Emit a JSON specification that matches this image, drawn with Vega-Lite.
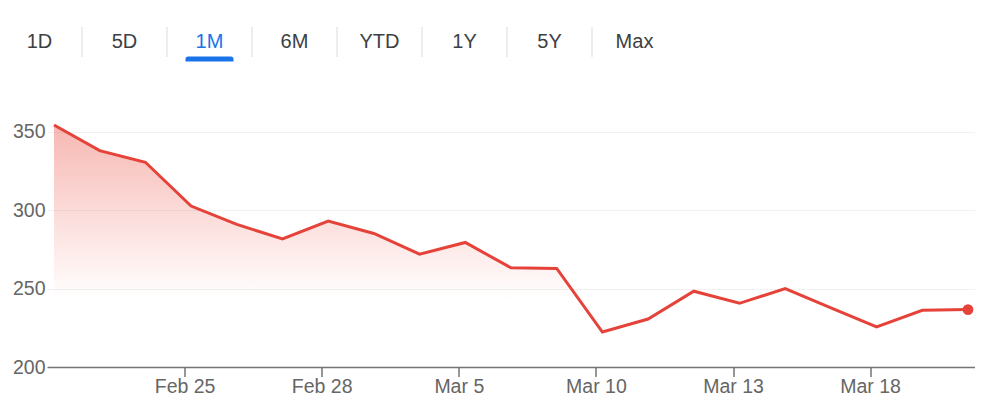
{
  "$schema": "https://vega.github.io/schema/vega-lite/v6.json",
  "padding": {"left": 12, "top": 0, "right": 0, "bottom": 0},
  "background": "white",
  "spacing": 32,
  "config": {"view": {"stroke": null}, "font": "Liberation Sans"},
  "vconcat": [
    {
      "width": 680,
      "height": 84,
      "data": {"values": [
        {"tab": "1D"}, {"tab": "5D"}, {"tab": "1M"}, {"tab": "6M"},
        {"tab": "YTD"}, {"tab": "1Y"}, {"tab": "5Y"}, {"tab": "Max"}
      ]},
      "layer": [
        {
          "mark": {"type": "text", "fontSize": 20},
          "encoding": {
            "x": {"field": "tab", "type": "nominal", "sort": null, "axis": null,
                  "scale": {"paddingInner": 0, "paddingOuter": 0, "range": [-50, 630]}},
            "text": {"field": "tab"},
            "color": {"condition": {"test": "datum.tab === '1M'", "value": "#1a73e8"}, "value": "#3c4043"}
          }
        },
        {
          "transform": [{"filter": "datum.tab !== 'Max'"}],
          "mark": {"type": "tick", "orient": "vertical", "size": 30, "thickness": 1, "color": "#dadce0", "opacity": 1},
          "encoding": {
            "x": {"field": "tab", "type": "nominal", "sort": null, "bandPosition": 1}
          }
        },
        {
          "transform": [{"filter": "datum.tab === '1M'"}],
          "mark": {"type": "tick", "orient": "horizontal", "size": 48, "thickness": 5, "yOffset": 17,
                   "color": "#1a73e8", "opacity": 1, "cornerRadiusTopLeft": 3, "cornerRadiusTopRight": 3},
          "encoding": {
            "x": {"field": "tab", "type": "nominal", "sort": null}
          }
        }
      ]
    },
    {
      "width": 928,
      "height": 251,
      "data": {"values": [
        {"date": "Feb 20", "price": 354.3},
        {"date": "Feb 21", "price": 337.9},
        {"date": "Feb 24", "price": 330.5},
        {"date": "Feb 25", "price": 302.6},
        {"date": "Feb 26", "price": 290.9},
        {"date": "Feb 27", "price": 281.7},
        {"date": "Feb 28", "price": 293.0},
        {"date": "Mar 3", "price": 285.1},
        {"date": "Mar 4", "price": 271.9},
        {"date": "Mar 5", "price": 279.4},
        {"date": "Mar 6", "price": 263.2},
        {"date": "Mar 7", "price": 262.8},
        {"date": "Mar 10", "price": 222.3},
        {"date": "Mar 11", "price": 230.6},
        {"date": "Mar 12", "price": 248.3},
        {"date": "Mar 13", "price": 240.6},
        {"date": "Mar 14", "price": 250.0},
        {"date": "Mar 17", "price": 237.7},
        {"date": "Mar 18", "price": 225.5},
        {"date": "Mar 19", "price": 236.1},
        {"date": "Mar 20", "price": 236.6}
      ]},
      "encoding": {
        "x": {
          "field": "date", "type": "ordinal", "sort": null,
          "scale": {"type": "point", "padding": 0.153},
          "axis": {
            "title": null,
            "values": ["Feb 25", "Feb 28", "Mar 5", "Mar 10", "Mar 13", "Mar 18"],
            "labelAngle": 0,
            "domain": false,
            "tickSize": 10,
            "tickWidth": 1.5,
            "tickColor": "#757575",
            "labelFontSize": 19.5,
            "labelColor": "#666666",
            "labelPadding": 1,
            "translate": -6,
            "offset": 6
          }
        },
        "y": {
          "field": "price", "type": "quantitative",
          "scale": {"domain": [200, 360], "nice": false, "zero": false},
          "axis": {
            "title": null,
            "values": [200, 250, 300, 350],
            "domain": false,
            "ticks": false,
            "labelFontSize": 19.5,
            "labelColor": "#666666",
            "labelPadding": 2,
            "gridColor": {"condition": {"test": "datum.value === 200", "value": "#757575"}, "value": "#f1f1f1"},
            "gridWidth": {"condition": {"test": "datum.value === 200", "value": 1.5}, "value": 1}
          }
        }
      },
      "layer": [
        {
          "mark": {
            "type": "area",
            "color": {
              "gradient": "linear", "x1": 0, "y1": 0, "x2": 0, "y2": 1,
              "stops": [
                {"offset": 0, "color": "rgba(234,67,53,0.38)"},
                {"offset": 0.72, "color": "rgba(234,67,53,0)"}
              ]
            }
          },
          "encoding": {"y2": {"datum": 200}}
        },
        {
          "mark": {"type": "line", "color": "#e5433a", "strokeWidth": 3}
        },
        {
          "transform": [{"filter": "datum.date === 'Mar 20'"}],
          "mark": {"type": "circle", "color": "#e5433a", "size": 115, "opacity": 1}
        }
      ]
    }
  ]
}
